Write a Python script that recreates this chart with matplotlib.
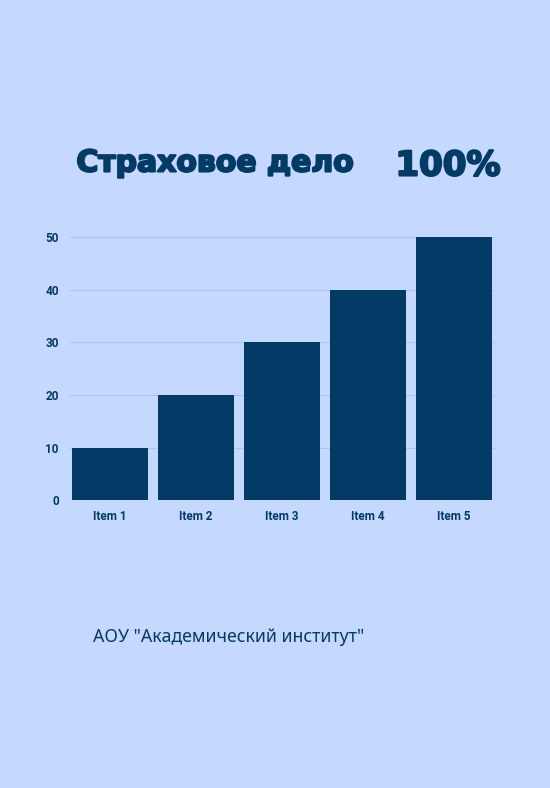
import matplotlib
matplotlib.use("Agg")
import matplotlib.pyplot as plt
import matplotlib.patheffects as pe

categories = ["Item 1", "Item 2", "Item 3", "Item 4", "Item 5"]
values = [10, 20, 30, 40, 50]
yticks = [0, 10, 20, 30, 40, 50]

bg = "#c5d8fe"
dark = "#033a66"

fig = plt.figure(figsize=(5.5, 7.88), dpi=100, facecolor=bg)
ax = fig.add_axes([0.127, 0.365, 0.773, 0.334], facecolor=bg)
x = range(len(categories))
ax.bar(x, values, width=0.88, color=dark, zorder=3)
ax.set_xlim(-0.47, 4.48)
ax.set_ylim(0, 50)
ax.set_yticks(yticks)
ax.set_xticks(list(x))
ax.set_xticklabels(categories)
for s in ax.spines.values():
    s.set_visible(False)
ax.grid(axis="y", color="#aec4ee", linewidth=0.8, zorder=0)
ax.tick_params(length=0, labelsize=8.5, labelcolor=dark, pad=7)
for lab in ax.get_xticklabels() + ax.get_yticklabels():
    lab.set_family("Roboto"); lab.set_fontweight("bold")
ax.tick_params(axis="y", pad=8)

stroke = [pe.withStroke(linewidth=1.5, foreground=dark)]
fig.text(215/550, 1-163/788, "Страховое дело", family="DejaVu Sans", fontweight="heavy",
         fontsize=21.5, color=dark, ha="center", va="center", path_effects=stroke)
fig.text(448/550, 1-166/788, "100%", family="DejaVu Sans", fontweight="heavy",
         fontsize=24.5, color=dark, ha="center", va="center", path_effects=stroke)
fig.text(93/550, 1-637/788, 'АОУ "Академический институт"', family="Noto Sans",
         fontsize=12.8, color=dark, ha="left", va="center")

fig.savefig("out.png", dpi=100, facecolor=bg)
